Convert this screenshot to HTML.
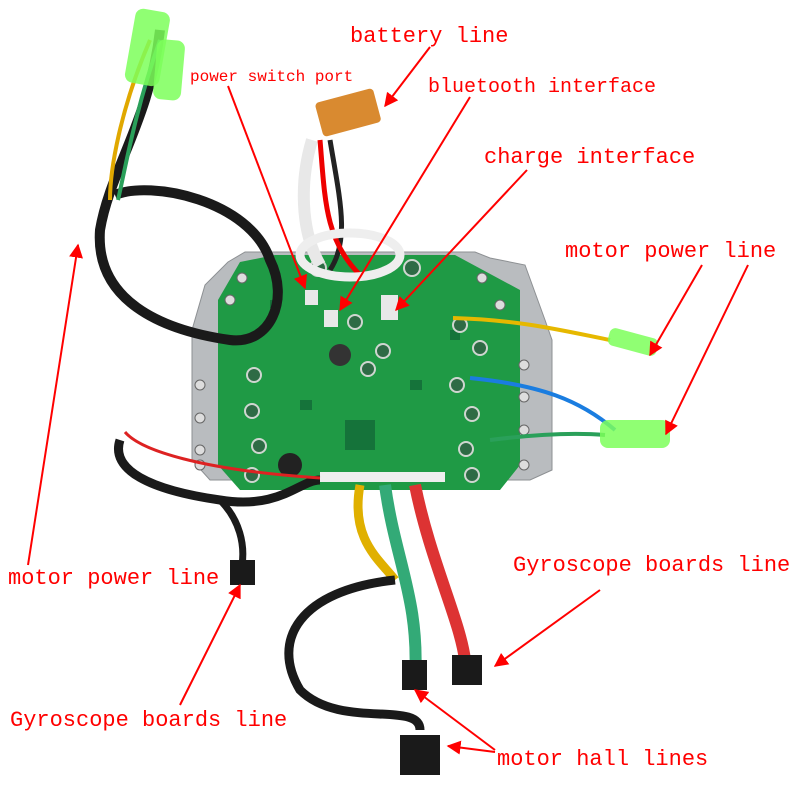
<!DOCTYPE html>
<html><head><style>
html,body{margin:0;padding:0;background:#fff;}
svg{display:block}
text{font-family:"Liberation Mono",monospace;fill:#ff0000;}
</style></head><body>
<svg width="800" height="800" viewBox="0 0 800 800" xmlns="http://www.w3.org/2000/svg">
<defs>
<marker id="ah" viewBox="0 0 10 10" refX="9" refY="5" markerWidth="7" markerHeight="7" orient="auto"><path d="M0,0 L10,5 L0,10 z" fill="#f00"/></marker>
</defs>
<rect width="800" height="800" fill="#fff"/>
<!-- metal plate -->
<polygon points="245,252 475,252 490,258 525,265 545,320 552,340 552,470 530,480 210,480 192,460 192,330 205,285 228,262" fill="#b9bcbf" stroke="#8d9093"/>
<!-- green board -->
<polygon points="275,255 455,255 520,290 520,465 500,490 240,490 218,465 218,300 240,262" fill="#1f9a45"/>
<g fill="#15733a">
<rect x="345" y="420" width="30" height="30"/>
<rect x="330" y="345" width="18" height="18" rx="9"/>
<rect x="270" y="300" width="10" height="8"/><rect x="410" y="380" width="12" height="10"/>
<rect x="300" y="400" width="12" height="10"/><rect x="450" y="330" width="10" height="10"/>
</g>
<circle cx="340" cy="355" r="11" fill="#333"/>
<circle cx="290" cy="465" r="12" fill="#222"/>
<!-- capacitors -->
<g fill="#2e6b45" stroke="#cfd6d0" stroke-width="2">
<circle cx="318" cy="268" r="8"/><circle cx="412" cy="268" r="8"/><circle cx="355" cy="322" r="7"/>
<circle cx="383" cy="351" r="7"/><circle cx="368" cy="369" r="7"/><circle cx="460" cy="325" r="7"/>
<circle cx="480" cy="348" r="7"/><circle cx="457" cy="385" r="7"/><circle cx="472" cy="414" r="7"/>
<circle cx="254" cy="375" r="7"/><circle cx="252" cy="411" r="7"/><circle cx="259" cy="446" r="7"/>
<circle cx="252" cy="475" r="7"/><circle cx="466" cy="449" r="7"/><circle cx="472" cy="475" r="7"/>
</g>
<!-- connectors -->
<rect x="305" y="290" width="13" height="15" fill="#e8e8e8"/>
<rect x="324" y="310" width="14" height="17" fill="#e8e8e8"/>
<rect x="381" y="295" width="17" height="25" fill="#e8e8e8"/>
<rect x="320" y="472" width="75" height="10" fill="#eee"/>
<rect x="385" y="472" width="60" height="10" fill="#eee"/>
<!-- bolts -->
<g fill="#ddd" stroke="#666">
<circle cx="242" cy="278" r="5"/><circle cx="230" cy="300" r="5"/><circle cx="200" cy="385" r="5"/>
<circle cx="200" cy="418" r="5"/><circle cx="200" cy="450" r="5"/><circle cx="200" cy="465" r="5"/>
<circle cx="482" cy="278" r="5"/><circle cx="500" cy="305" r="5"/><circle cx="524" cy="365" r="5"/>
<circle cx="524" cy="397" r="5"/><circle cx="524" cy="430" r="5"/><circle cx="524" cy="465" r="5"/>
</g>
<!-- battery wires -->
<path d="M312,140 C300,180 300,230 320,265" stroke="#e8e8e8" stroke-width="12" fill="none"/>
<path d="M330,140 C340,200 350,240 330,270" stroke="#222" stroke-width="5" fill="none"/>
<path d="M320,140 C325,200 325,240 360,275" stroke="#e00" stroke-width="5" fill="none"/>
<ellipse cx="350" cy="255" rx="50" ry="22" fill="none" stroke="#eee" stroke-width="9"/>
<rect x="318" y="95" width="60" height="35" rx="4" fill="#d98a30" transform="rotate(-15 348 112)"/>
<!-- right wires -->
<path d="M453,318 C520,320 560,330 610,340" stroke="#e6b800" stroke-width="4" fill="none"/>
<path d="M470,378 C540,385 580,400 615,430" stroke="#1a7de0" stroke-width="4" fill="none"/>
<path d="M490,440 C530,435 570,432 605,435" stroke="#2aa05a" stroke-width="4" fill="none"/>
<rect x="608" y="333" width="50" height="18" rx="6" fill="#7dff5a" opacity=".85" transform="rotate(15 633 342)"/>
<rect x="600" y="420" width="70" height="28" rx="8" fill="#7dff5a" opacity=".85"/>
<!-- left black cable -->
<path d="M160,30 C150,120 110,170 100,230 C95,300 160,330 230,340 C270,345 290,300 270,260 C250,200 150,180 115,195" stroke="#1a1a1a" stroke-width="10" fill="none"/>
<path d="M150,40 C120,110 110,170 110,200" stroke="#e0a800" stroke-width="4" fill="none"/>
<path d="M160,40 C135,110 125,170 118,200" stroke="#2aa05a" stroke-width="4" fill="none"/>
<rect x="130" y="10" width="35" height="75" rx="8" fill="#7dff5a" opacity=".85" transform="rotate(10 148 47)"/>
<rect x="155" y="40" width="28" height="60" rx="8" fill="#7dff5a" opacity=".85" transform="rotate(5 170 70)"/>
<!-- bottom left cable -->
<path d="M120,440 C110,470 150,490 220,500 C280,510 300,480 320,480" stroke="#1a1a1a" stroke-width="9" fill="none"/>
<path d="M125,432 C140,450 200,470 320,478" stroke="#d22" stroke-width="3" fill="none"/>
<path d="M220,500 C240,520 245,545 242,565" stroke="#1a1a1a" stroke-width="7" fill="none"/>
<rect x="230" y="560" width="25" height="25" fill="#1a1a1a"/>
<!-- bottom wire bundle -->
<path d="M385,485 C395,560 420,600 415,680" stroke="#3a7" stroke-width="12" fill="none"/>
<path d="M415,485 C430,560 460,620 465,660" stroke="#d33" stroke-width="12" fill="none"/>
<path d="M360,485 C350,540 380,560 395,580" stroke="#e0b000" stroke-width="9" fill="none"/>
<path d="M395,580 C300,590 270,640 300,690 C340,730 420,700 420,730" stroke="#1a1a1a" stroke-width="9" fill="none"/>
<rect x="402" y="660" width="25" height="30" fill="#1a1a1a"/>
<rect x="452" y="655" width="30" height="30" fill="#1a1a1a"/>
<rect x="400" y="735" width="40" height="40" fill="#1a1a1a"/>
<!-- labels -->
<text x="350" y="42" font-size="22">battery line</text>
<text x="190" y="81" font-size="16">power switch port</text>
<text x="428" y="92" font-size="20">bluetooth interface</text>
<text x="484" y="163" font-size="22">charge interface</text>
<text x="565" y="257" font-size="22">motor power line</text>
<text x="8" y="584" font-size="22">motor power line</text>
<text x="513" y="571" font-size="22">Gyroscope boards line</text>
<text x="10" y="726" font-size="22">Gyroscope boards line</text>
<text x="497" y="765" font-size="22">motor hall lines</text>
<!-- arrows -->
<g stroke="#f00" stroke-width="2" fill="none" marker-end="url(#ah)">
<line x1="430" y1="47" x2="385" y2="106"/>
<line x1="228" y1="86" x2="305" y2="288"/>
<line x1="470" y1="97" x2="340" y2="310"/>
<line x1="527" y1="170" x2="396" y2="310"/>
<line x1="702" y1="265" x2="650" y2="355"/>
<line x1="748" y1="265" x2="666" y2="434"/>
<line x1="28" y1="565" x2="78" y2="245"/>
<line x1="180" y1="705" x2="240" y2="585"/>
<line x1="600" y1="590" x2="495" y2="666"/>
<line x1="495" y1="750" x2="415" y2="690"/>
<line x1="495" y1="752" x2="448" y2="746"/>
</g>
</svg>
</body></html>
